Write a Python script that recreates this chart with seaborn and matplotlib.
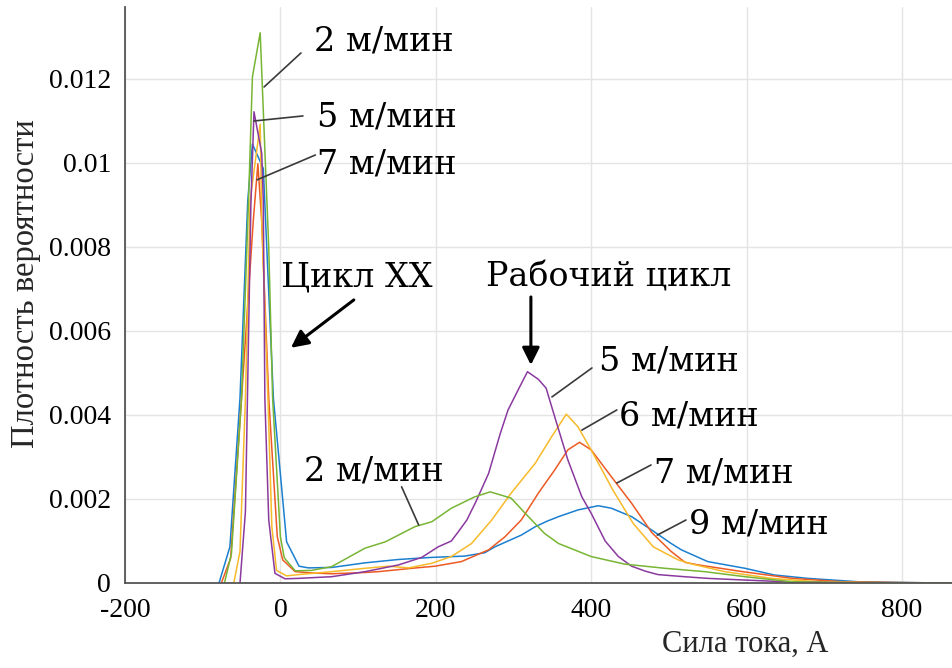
import matplotlib
matplotlib.use("Agg")
import matplotlib.pyplot as plt
import seaborn as sns
import pandas as pd

# Current density curves for different feed speeds (Сила тока, А -> плотность вероятности)
speeds = ["9 м/мин", "7 м/мин", "6 м/мин", "5 м/мин", "2 м/мин"]

x9 = [-79, -65, -52, -42, -36, -22, -9, 8, 24, 36, 66, 109, 152, 195, 237, 263, 276, 293, 310,
      328, 343, 358, 383, 409, 426, 452, 478, 503, 516, 550, 598, 636, 679, 743, 829, 864]
y9 = [0, 0.00086, 0.0044, 0.0091, 0.01045, 0.00987, 0.0044, 0.00098, 0.0004, 0.00036, 0.00037,
      0.00048, 0.00056, 0.00061, 0.00064, 0.00072, 0.00086, 0.001, 0.00114, 0.00134, 0.00147,
      0.00158, 0.00174, 0.00184, 0.00178, 0.00158, 0.00126, 0.00094, 0.00079, 0.00051, 0.00035,
      0.00019, 0.00011, 0.00003, 0.000005, 0.0]

x7 = [-76, -64, -50, -35, -29, -24, -15, -4, 3, 19, 40, 66, 109, 126, 169, 199, 233, 268, 289,
      310, 332, 353, 370, 385, 400, 426, 452, 478, 503, 521, 538, 595, 659, 723, 800, 864]
y7 = [0, 0.00059, 0.0044, 0.0086, 0.00998, 0.0086, 0.0044, 0.0011, 0.00055, 0.00027, 0.00024,
      0.00022, 0.00025, 0.00027, 0.00035, 0.0004, 0.00051, 0.00079, 0.0011, 0.0015, 0.00214,
      0.00269, 0.00317, 0.00335, 0.00317, 0.00253, 0.0019, 0.0012, 0.00075, 0.00049, 0.00043,
      0.00027, 0.00011, 0.00003, 0.00001, 0.0]

x6 = [-60, -52, -45, -39, -26, -24, -16, -11, -5, 8, 23, 66, 109, 139, 165, 195, 220, 246, 272,
      297, 328, 349, 368, 383, 402, 428, 454, 480, 512, 530, 572, 632, 692, 760, 864]
y6 = [0, 0.00075, 0.0044, 0.0091, 0.01092, 0.0086, 0.0044, 0.00134, 0.0003, 0.00017, 0.0002,
      0.00027, 0.00035, 0.0004, 0.00036, 0.00047, 0.00063, 0.00094, 0.0015, 0.00214, 0.00285,
      0.00348, 0.00402, 0.00372, 0.0031, 0.00221, 0.00142, 0.00086, 0.00055, 0.00045, 0.00027,
      0.00011, 0.00003, 0.00001, 0.0]

x5 = [-52, -45, -38, -34, -24, -22, -20, -15, -7, 6, 23, 66, 109, 152, 182, 203, 220, 229, 240,
      252, 268, 283, 293, 308, 318, 332, 342, 353, 370, 388, 400, 418, 435, 452, 470, 486, 520,
      550, 598, 650, 720, 864]
y5 = [0, 0.0017, 0.009, 0.01122, 0.01023, 0.0091, 0.0044, 0.0015, 0.00023, 0.0001, 0.00011,
      0.00015, 0.00027, 0.00043, 0.00061, 0.00086, 0.001, 0.00122, 0.0015, 0.00195, 0.00261,
      0.00356, 0.00412, 0.00467, 0.00503, 0.00485, 0.00464, 0.00396, 0.00293, 0.00205, 0.00166,
      0.001, 0.00063, 0.0004, 0.00028, 0.0002, 0.00015, 0.00011, 0.00007, 0.00003, 0.00001, 0.0]

x2 = [-72, -63, -50, -41, -36, -26, -15, -10, 0, 5, 19, 40, 66, 109, 135, 173, 195, 220, 250,
      270, 297, 315, 340, 358, 400, 443, 495, 546, 598, 658, 720, 864]
y2 = [0, 0.0007, 0.0044, 0.0091, 0.01205, 0.0131, 0.008, 0.0044, 0.0011, 0.0006, 0.00029, 0.0003,
      0.00039, 0.00083, 0.00098, 0.00134, 0.00146, 0.00178, 0.00205, 0.00217, 0.00202, 0.00166,
      0.00118, 0.00094, 0.00063, 0.00045, 0.00035, 0.00027, 0.00015, 0.00003, 0.00001, 0.0]

x_ticks = [-200, 0, 200, 400, 600, 800]
y_ticks = [0, 0.002, 0.004, 0.006, 0.008, 0.01, 0.012]
y_tick_labels = ["0", "0.002", "0.004", "0.006", "0.008", "0.01", "0.012"]

colors = {"9 м/мин": "#1b7fd0", "7 м/мин": "#ec5a24", "6 м/мин": "#f7ba2a",
          "5 м/мин": "#8a3a9e", "2 м/мин": "#78b534"}

series = {"9 м/мин": (x9, y9), "7 м/мин": (x7, y7), "6 м/мин": (x6, y6),
          "5 м/мин": (x5, y5), "2 м/мин": (x2, y2)}
frames = []
for name in speeds:
    xs, ys = series[name]
    frames.append(pd.DataFrame({"current": xs, "density": ys, "speed": name}))
df = pd.concat(frames, ignore_index=True)

sns.set_style("white")
plt.rcParams["font.family"] = ["Liberation Serif", "DejaVu Serif"]

fig = plt.figure(figsize=(9.52, 6.68), dpi=100)
ax = fig.add_axes([125 / 952, 85 / 668, 827 / 952, 576 / 668])

sns.lineplot(data=df, x="current", y="density", hue="speed", hue_order=speeds,
             palette=colors, sort=False, estimator=None, linewidth=1.1,
             legend=False, ax=ax)

ax.set_xlim(-200, 864.4)
ax.set_ylim(0, 0.013714)
ax.set_xticks(x_ticks)
ax.set_xticklabels([str(v) for v in x_ticks])
ax.set_yticks(y_ticks)
ax.set_yticklabels(y_tick_labels)
ax.grid(True, color="#e4e4e4", linewidth=1.0)
ax.set_axisbelow(True)
for side in ("top", "right"):
    ax.spines[side].set_visible(False)
for side in ("left", "bottom"):
    ax.spines[side].set_color("#555555")
    ax.spines[side].set_linewidth(1.3)
ax.tick_params(axis="both", direction="in", length=9, width=1.3, color="#333333",
               labelsize=20, labelcolor="black")
ax.tick_params(axis="x", pad=11)
ax.tick_params(axis="y", pad=10)

ax.set_xlabel("Сила тока, А", fontsize=22)
ax.xaxis.set_label_coords(0.75, -0.082)
ax.set_ylabel("Плотность вероятности", fontsize=23.5)
ax.yaxis.set_label_coords(-0.102, 0.52)

# Speed labels with thin leader lines
ann_font = dict(fontsize=24, family=["DejaVu Serif"], color="black",
                ha="left", va="baseline")
leader = dict(arrowstyle="-", color="#3a3a3a", lw=1.2, shrinkA=0, shrinkB=0)

labels = [
    ("2 м/мин", (43, 0.01269), (26.5, 0.01262), (-21, 0.01181)),
    ("5 м/мин", (47, 0.01088), (29, 0.01112), (-34, 0.0110)),
    ("7 м/мин", (47, 0.00976), (45, 0.01019), (-30, 0.0096)),
    ("5 м/мин", (410, 0.00505), (401, 0.00512), (349.5, 0.00443)),
    ("6 м/мин", (436, 0.00376), (433, 0.00412), (388, 0.00364)),
    ("7 м/мин", (481, 0.0024), (477, 0.00281), (433, 0.00238)),
    ("9 м/мин", (526, 0.00117), (522, 0.0015), (485, 0.00114)),
    ("2 м/мин", (30, 0.00245), (156, 0.00229), (178, 0.00138)),
]
for text, pos, start, end in labels:
    ax.text(pos[0], pos[1], text, **ann_font)
    ax.annotate("", xy=end, xytext=start, arrowprops=leader)

# Cycle captions with arrows
ax.text(0.8, 0.00705, "Цикл ХХ", **ann_font)
ax.text(264.6, 0.00705, "Рабочий цикл", **ann_font)
arrow = dict(arrowstyle="-|>", color="black", lw=2.2, mutation_scale=26,
             shrinkA=0, shrinkB=0)
ax.annotate("", xy=(13.6, 0.0056), xytext=(94.5, 0.00674), arrowprops=arrow)
ax.annotate("", xy=(322.4, 0.00519), xytext=(322.4, 0.00681), arrowprops=arrow)

fig.savefig("out.png", dpi=100)
